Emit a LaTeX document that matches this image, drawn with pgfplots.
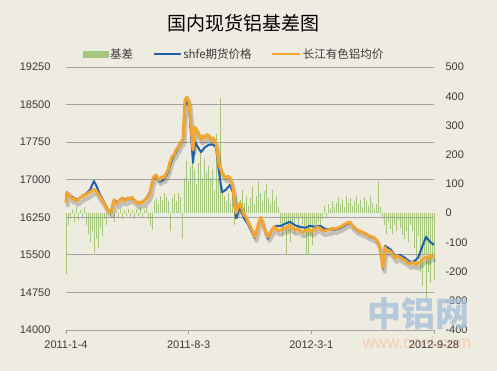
\documentclass[border=0pt]{standalone}
\usepackage{fontspec}
\setmainfont{Liberation Sans}
\newfontfamily\cjk{Noto Sans CJK SC}
\usepackage{pgfplots}
\usepackage{pgfplotstable}
\pgfplotsset{compat=1.18}
\definecolor{bg}{HTML}{EEEBE1}
\definecolor{gridc}{HTML}{A3A3A3}
\definecolor{barc}{HTML}{A5C77C}
\definecolor{bluec}{HTML}{1F5FAE}
\definecolor{orangec}{HTML}{F2A531}
\definecolor{txt}{HTML}{3A3A3A}
\definecolor{wmblue}{HTML}{A9C1DA}
\definecolor{wmorange}{HTML}{F5C6A8}

\pgfplotstableread{
x y
0 16535
1 16735
4 16675
6 16620
8 16635
10 16580
12 16595
14 16640
16 16655
18 16700
20 16695
22 16730
24 16755
26 16780
28 16815
31 16755
34 16655
36 16600
38 16535
40 16450
42 16395
45 16355
48 16595
50 16520
52 16535
54 16600
56 16635
58 16580
60 16595
62 16640
64 16615
66 16650
68 16595
70 16560
72 16515
74 16560
76 16535
78 16580
80 16615
82 16660
84 16735
87 17035
90 17095
92 17020
94 16995
96 17060
98 17035
100 17120
102 17195
104 17350
106 17455
108 17500
110 17595
112 17640
114 17735
116 17780
117 17835
119 18590
121 18650
123 18550
125 18090
127 17595
129 18050
132 17950
135 17795
137 17880
139 17835
141 17900
143 17875
145 17800
147 17835
150 17735
153 17300
156 17135
158 17080
160 17035
162 17070
164 17035
167 16835
170 16335
174 16535
176 16420
178 16295
180 16250
182 16155
184 16080
186 15995
189 15855
192 16095
195 16255
197 16100
199 15995
202 15855
204 15940
206 15995
208 16060
210 16035
212 15980
215 15995
218 16050
220 16015
222 16060
224 16095
226 16040
229 15995
231 16020
234 15995
236 15950
239 15975
241 16010
244 15995
246 15960
249 16015
251 16050
254 16035
256 15990
259 15975
261 16000
264 15995
266 16030
269 16015
272 16040
274 16055
277 16090
279 16115
282 16140
284 16155
286 16090
289 16035
291 16000
294 15975
296 15950
299 15935
301 15900
304 15875
306 15860
309 15835
311 15780
313 15715
315 15495
317 15240
319 15655
320 15580
322 15595
325 15555
327 15500
329 15435
331 15480
334 15455
336 15420
339 15395
341 15360
344 15315
346 15350
348 15335
350 15300
352 15335
354 15360
356 15395
358 15430
360 15455
362 15420
364 15495
366 15470
368 15455
}\spot

\pgfplotstableread{
x y
0 16700
1 16750
4 16680
8 16640
12 16600
16 16670
20 16720
24 16800
28 16975
31 16850
34 16700
38 16560
42 16400
45 16360
48 16600
52 16540
56 16640
60 16600
64 16620
68 16600
72 16520
76 16540
80 16620
84 16760
87 17000
90 17060
94 16960
98 17000
102 17150
106 17400
110 17550
114 17700
117 17800
119 18450
121 18600
123 18450
125 17900
127 17335
129 17750
132 17650
135 17550
139 17650
143 17700
147 17700
150 17650
153 17150
156 16750
160 16800
164 16900
167 16750
170 16230
174 16450
178 16230
182 16120
186 15960
189 15840
192 16080
195 16240
199 15990
202 15820
206 16000
210 16080
215 16080
220 16130
224 16160
229 16090
234 16060
239 16040
244 16080
249 16060
254 16080
259 16020
264 16010
269 16000
274 16030
279 16090
284 16140
289 16020
294 15960
299 15920
304 15860
309 15830
313 15700
315 15520
317 15220
319 15680
322 15640
325 15600
329 15480
334 15500
339 15440
344 15360
348 15370
352 15440
356 15650
360 15860
364 15760
368 15700
}\fut

\begin{document}
\begin{tikzpicture}
\fill[bg] (0pt,0pt) rectangle (497pt,371pt);

% basis bars, right axis
\begin{axis}[at={(66pt,41pt)}, anchor=south west, scale only axis,
  width=368pt, height=263pt,
  xmin=0, xmax=368, ymin=-400, ymax=500,
  hide x axis,
  axis y line*=right, y axis line style={draw=none},
  ytick={-400,-300,-200,-100,0,100,200,300,400,500},
  yticklabels={-400,-300,-200,-100,0,100,200,300,400,500},
  major tick length=0pt, ytick style={draw=none},
  yticklabel style={font=\fontsize{11}{13}\selectfont, text=txt, anchor=west, xshift=8pt},
  clip=false]
\addplot[ycomb, draw=barc, line width=0.9pt, mark=none] coordinates {
(0,-210)(2,-40)(4,-20)(6,15)(8,-30)(10,20)(12,-25)(14,10)(16,-15)(18,20)
(20,-40)(22,-70)(24,-100)(26,-60)(28,-135)(30,-90)(32,-120)(34,-50)(36,-80)(38,-20)
(40,-40)(42,15)(44,-10)(46,20)(48,-30)(50,10)(52,-15)(54,15)(56,-20)(58,10)
(60,-10)(62,15)(64,-15)(66,10)(68,-20)(70,15)(72,-10)(74,20)(76,-15)(78,10)
(80,25)(82,-20)(84,-45)(86,-58)(88,40)(90,50)(92,30)(94,60)(96,45)(98,70)
(100,55)(102,40)(104,-60)(106,50)(108,65)(110,40)(112,70)(114,55)(116,-90)(118,120)
(120,180)(122,110)(124,160)(126,230)(128,150)(130,100)(132,170)(134,215)(136,120)(138,190)
(140,140)(142,160)(144,120)(146,150)(148,80)(150,270)(152,120)(154,395)(156,90)(158,60)
(160,40)(162,70)(164,30)(166,50)(168,-40)(170,60)(172,30)(174,45)(176,80)(178,35)
(180,60)(182,25)(184,50)(186,90)(188,30)(190,60)(192,110)(194,70)(196,40)(198,75)
(200,100)(202,50)(204,30)(206,80)(208,40)(210,60)(212,20)(214,-40)(216,-80)(218,-30)
(220,-145)(222,-60)(224,-100)(226,-30)(228,-70)(230,-20)(232,-50)(234,-15)(236,-40)(238,-60)
(240,-140)(242,-145)(244,-80)(246,-110)(248,-40)(250,-60)(252,-30)(254,-50)(256,-20)(258,25)
(260,-15)(262,30)(264,15)(266,40)(268,20)(270,35)(272,55)(274,30)(276,45)(278,20)
(280,60)(282,35)(284,50)(286,25)(288,40)(290,60)(292,30)(294,45)(296,20)(298,55)
(300,40)(302,25)(304,60)(306,35)(308,15)(310,30)(312,110)(314,20)(316,-20)(318,-40)
(320,-70)(322,-30)(324,-55)(326,-70)(328,-40)(330,-60)(332,-25)(334,-50)(336,-75)(338,-90)
(340,-60)(342,-100)(344,-40)(346,-60)(348,-120)(350,-178)(352,-80)(354,-200)(356,-250)(358,-140)
(360,-300)(362,-200)(364,-240)(366,-150)(368,-230)
};
\end{axis}

% watermark
\node[font=\cjk\bfseries\fontsize{34}{36}\selectfont, text=wmblue, opacity=0.8] at (418pt,57pt) {中铝网};
\node[font=\fontsize{17}{19}\selectfont, text=wmorange, opacity=0.8] at (417pt,29pt) {www.cnal.com};

% price lines, left axis
\begin{axis}[at={(66pt,41pt)}, anchor=south west, scale only axis,
  width=368pt, height=263pt,
  xmin=0, xmax=368, ymin=14000, ymax=19250,
  scaled y ticks=false,
  axis line style={draw=none},
  ytick={14000,14750,15500,16250,17000,17750,18500,19250},
  yticklabels={14000,14750,15500,16250,17000,17750,18500,19250},
  ymajorgrids, grid style={gridc, line width=0.8pt},
  ytick style={draw=none}, ytick pos=left,
  xtick={0,122.667,245.333,368},
  xticklabels={2011-1-4,2011-8-3,2012-3-1,2012-9-28},
  xtick pos=bottom, tick align=outside, major tick length=4pt,
  xtick style={gridc, line width=0.8pt},
  yticklabel style={font=\fontsize{11}{13}\selectfont, text=txt, anchor=east, xshift=-8pt},
  xticklabel style={font=\fontsize{11}{13}\selectfont, text=txt, yshift=-3pt},
  legend columns=3,
  legend style={at={(0.4565,1.049)}, anchor=center, draw=none, fill=none,
    font=\cjk\fontsize{11.5}{13}\selectfont, text=txt,
    nodes={inner sep=1.5pt},
    /tikz/every even column/.append style={column sep=18pt}},
  clip=false]
\addlegendimage{legend image code/.code={\fill[barc] (0pt,-3pt) rectangle (25pt,3pt);}}
\addplot[black, opacity=0.18, line width=4pt, line join=round, forget plot]
  table[x expr=\thisrow{x}+1.5, y expr=\thisrow{y}-80]{\spot};
\addplot[bluec, line width=2pt, line join=round,
  legend image code/.code={\draw[bluec, line width=2.2pt] (0pt,0pt) -- (27pt,0pt);}] table{\fut};
\addplot[orangec, line width=3pt, line join=round,
  legend image code/.code={\draw[orangec, line width=2.2pt] (0pt,0pt) -- (28pt,0pt);}] table{\spot};
\legend{基差,shfe期货价格,长江有色铝均价}
\end{axis}

\node[font=\cjk\fontsize{19}{21}\selectfont, text=black] at (243pt,348pt) {国内现货铝基差图};
\end{tikzpicture}
\end{document}
